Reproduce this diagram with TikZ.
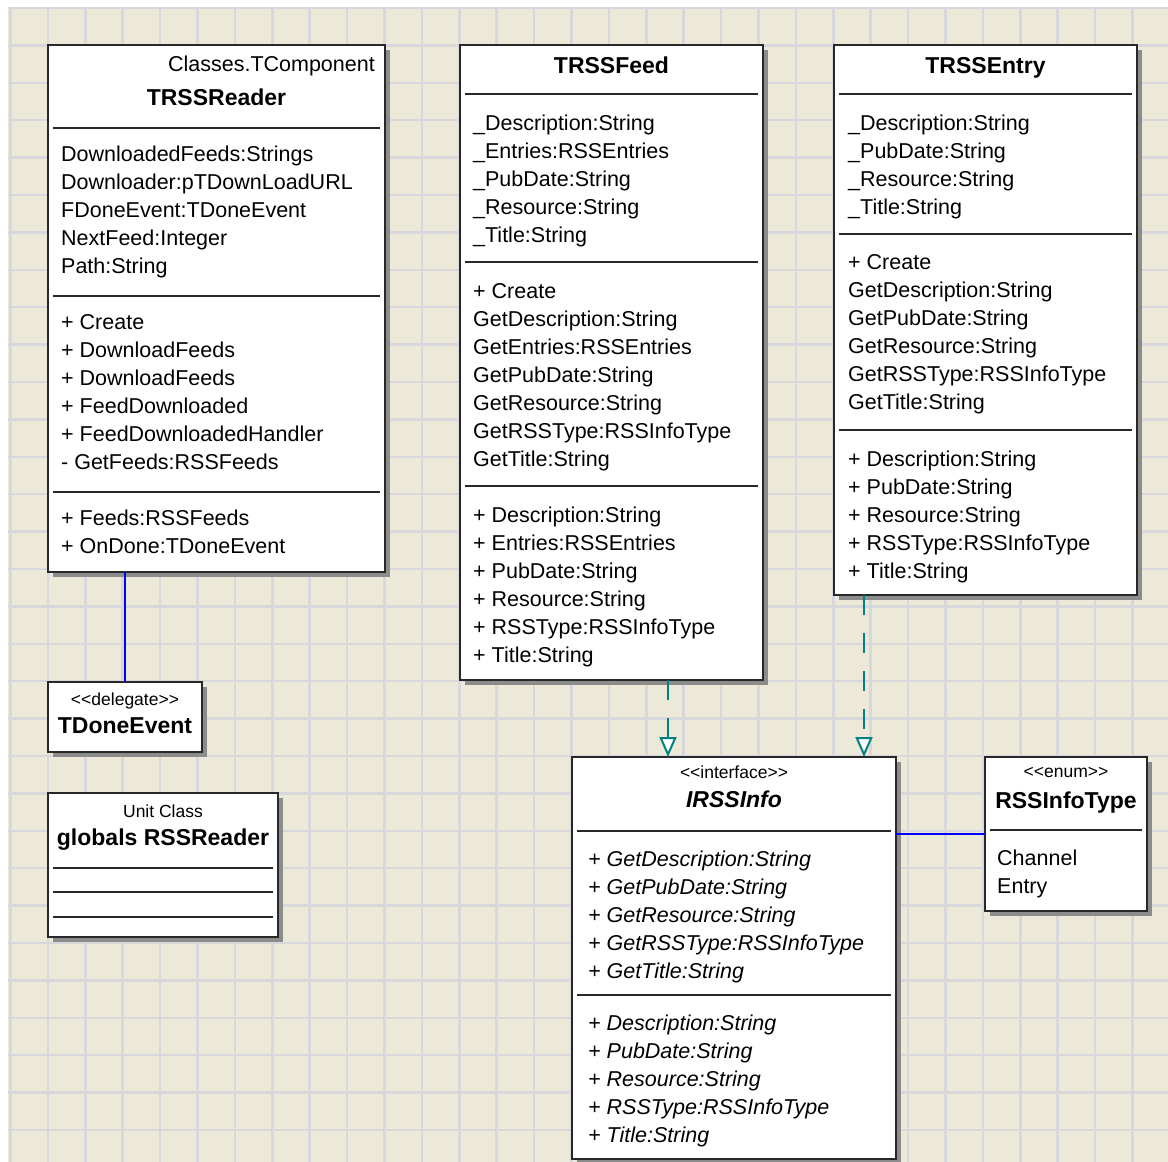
\documentclass[tikz,border=0pt]{standalone}
\usepackage{fontspec}
\setmainfont{Liberation Sans}
\usetikzlibrary{arrows.meta, positioning, calc, shadows}
\definecolor{cPaper}{RGB}{236,233,216}
\definecolor{cGrid}{RGB}{216,216,220}
\definecolor{cTeal}{RGB}{0,128,128}
\definecolor{cBlue}{RGB}{0,0,255}
\definecolor{cEdge}{RGB}{40,40,40}
\tikzset{
	classbox/.style={rectangle, draw=cEdge, line width=2pt, fill=white, anchor=north west, inner sep=0pt, outer sep=0pt,
		drop shadow={shadow xshift=5pt, shadow yshift=-5pt, fill=black!45, opacity=1}},
	classname/.style={anchor=base, inner sep=0pt, font=\bfseries\fontsize{23}{26}\selectfont},
	stereo/.style={anchor=base, inner sep=0pt, font=\fontsize{17.5}{20}\selectfont},
	member/.style={anchor=base west, inner sep=0pt, font=\fontsize{21.5}{28}\selectfont},
	sepline/.style={draw=cEdge, line width=2pt},
	gridline/.style={draw=cGrid, line width=2.5pt},
	% connectors
	assoc/.style={draw=cBlue, line width=2pt},
	realize/.style={draw=cTeal, line width=2pt, dash pattern=on 20pt off 18pt, -{Triangle[length=20pt, width=17pt, fill=white]}},
}
\begin{document}
\begin{tikzpicture}[x=1pt, y=-1pt]
	\useasboundingbox (0,0) rectangle (1168,1162);
	% paper and grid
	\fill[white] (0,0) rectangle (1168,1162);
	\fill[cPaper] (8,7) rectangle (1168,1162);
	\foreach \k in {0,...,30} {
		\draw[gridline] ({10.5+37.4*\k},7) -- ({10.5+37.4*\k},1162);
		\draw[gridline] (8,{8+37.4*\k}) -- (1168,{8+37.4*\k});
	}

	% class boxes
	\node[classbox, minimum width=337pt, minimum height=527pt] (reader) at (48,45) {};
	\node[classbox, minimum width=154pt, minimum height=70pt] (done) at (48,682) {};
	\node[classbox, minimum width=230pt, minimum height=144pt] (globals) at (48,793) {};
	\node[classbox, minimum width=303pt, minimum height=635pt] (feed) at (460,45) {};
	\node[classbox, minimum width=303pt, minimum height=550pt] (entry) at (834,45) {};
	\node[classbox, minimum width=324pt, minimum height=402pt] (info) at (572,757) {};
	\node[classbox, minimum width=162pt, minimum height=154pt] (enum) at (985,757) {};

	% compartment lines
	\foreach \n/\y in {reader/128, reader/296, reader/492, feed/94, feed/262, feed/486,
		entry/94, entry/234, entry/430, info/831, info/995, enum/830,
		globals/868, globals/892, globals/917} {
		\draw[sepline] ([xshift=5pt]\n.west |- 0,\y) -- ([xshift=-5pt]\n.east |- 0,\y);
	}

	% TRSSReader
	\node[member, anchor=base east] (readerbase) at (375,71) {Classes.TComponent};
	\node[classname] (readername) at (216.5,105) {TRSSReader};
	\foreach \t [count=\i from 0] in {DownloadedFeeds:Strings, Downloader:pTDownLoadURL, FDoneEvent:TDoneEvent, NextFeed:Integer, Path:String}
		\node[member] (ra\i) at (61,{161+28*\i}) {\t};
	\foreach \t [count=\i from 0] in {+ Create, + DownloadFeeds, + DownloadFeeds, + FeedDownloaded, + FeedDownloadedHandler, - GetFeeds:RSSFeeds}
		\node[member] (ro\i) at (61,{329+28*\i}) {\t};
	\foreach \t [count=\i from 0] in {+ Feeds:RSSFeeds, + OnDone:TDoneEvent}
		\node[member] (rp\i) at (61,{525+28*\i}) {\t};

	% TDoneEvent and globals
	\node[stereo] (donest) at (125,705) {<{}<delegate>{}>};
	\node[classname] (donename) at (125,733) {TDoneEvent};
	\node[stereo] (globalsst) at (163,817) {Unit Class};
	\node[classname] (globalsname) at (163,845) {globals RSSReader};

	% TRSSFeed
	\node[classname] (feedname) at (611.5,73) {TRSSFeed};
	\foreach \t [count=\i from 0] in {\_Description:String, \_Entries:RSSEntries, \_PubDate:String, \_Resource:String, \_Title:String}
		\node[member] (fa\i) at (473,{130+28*\i}) {\t};
	\foreach \t [count=\i from 0] in {+ Create, GetDescription:String, GetEntries:RSSEntries, GetPubDate:String, GetResource:String, GetRSSType:RSSInfoType, GetTitle:String}
		\node[member] (fo\i) at (473,{298+28*\i}) {\t};
	\foreach \t [count=\i from 0] in {+ Description:String, + Entries:RSSEntries, + PubDate:String, + Resource:String, + RSSType:RSSInfoType, + Title:String}
		\node[member] (fp\i) at (473,{522+28*\i}) {\t};

	% TRSSEntry
	\node[classname] (entryname) at (985.5,73) {TRSSEntry};
	\foreach \t [count=\i from 0] in {\_Description:String, \_PubDate:String, \_Resource:String, \_Title:String}
		\node[member] (ea\i) at (848,{130+28*\i}) {\t};
	\foreach \t [count=\i from 0] in {+ Create, GetDescription:String, GetPubDate:String, GetResource:String, GetRSSType:RSSInfoType, GetTitle:String}
		\node[member] (eo\i) at (848,{269+28*\i}) {\t};
	\foreach \t [count=\i from 0] in {+ Description:String, + PubDate:String, + Resource:String, + RSSType:RSSInfoType, + Title:String}
		\node[member] (ep\i) at (848,{466+28*\i}) {\t};

	% IRSSInfo
	\node[stereo] (infost) at (734,778) {<{}<interface>{}>};
	\node[classname, font=\bfseries\itshape\fontsize{23}{26}\selectfont] (infoname) at (734,807) {IRSSInfo};
	\foreach \t [count=\i from 0] in {+ GetDescription:String, + GetPubDate:String, + GetResource:String, + GetRSSType:RSSInfoType, + GetTitle:String}
		\node[member, font=\itshape\fontsize{21.5}{28}\selectfont] (io\i) at (588,{866+28*\i}) {\t};
	\foreach \t [count=\i from 0] in {+ Description:String, + PubDate:String, + Resource:String, + RSSType:RSSInfoType, + Title:String}
		\node[member, font=\itshape\fontsize{21.5}{28}\selectfont] (ip\i) at (588,{1030+28*\i}) {\t};

	% RSSInfoType
	\node[stereo] (enumst) at (1066,777) {<{}<enum>{}>};
	\node[classname] (enumname) at (1066,808) {RSSInfoType};
	\node[member] (ev0) at (997,865) {Channel};
	\node[member] (ev1) at (997,893) {Entry};

	% connectors
	\draw[assoc] (done.north |- reader.south) -- (done.north);
	\draw[assoc] (info.east |- enum.west) -- (enum.west);
	\draw[realize] ([xshift=56.5pt]feed.south) -- ([xshift=56.5pt]feed.south |- info.north);
	\draw[realize] ([xshift=-121.5pt]entry.south) -- ([xshift=-121.5pt]entry.south |- info.north);
\end{tikzpicture}
\end{document}
